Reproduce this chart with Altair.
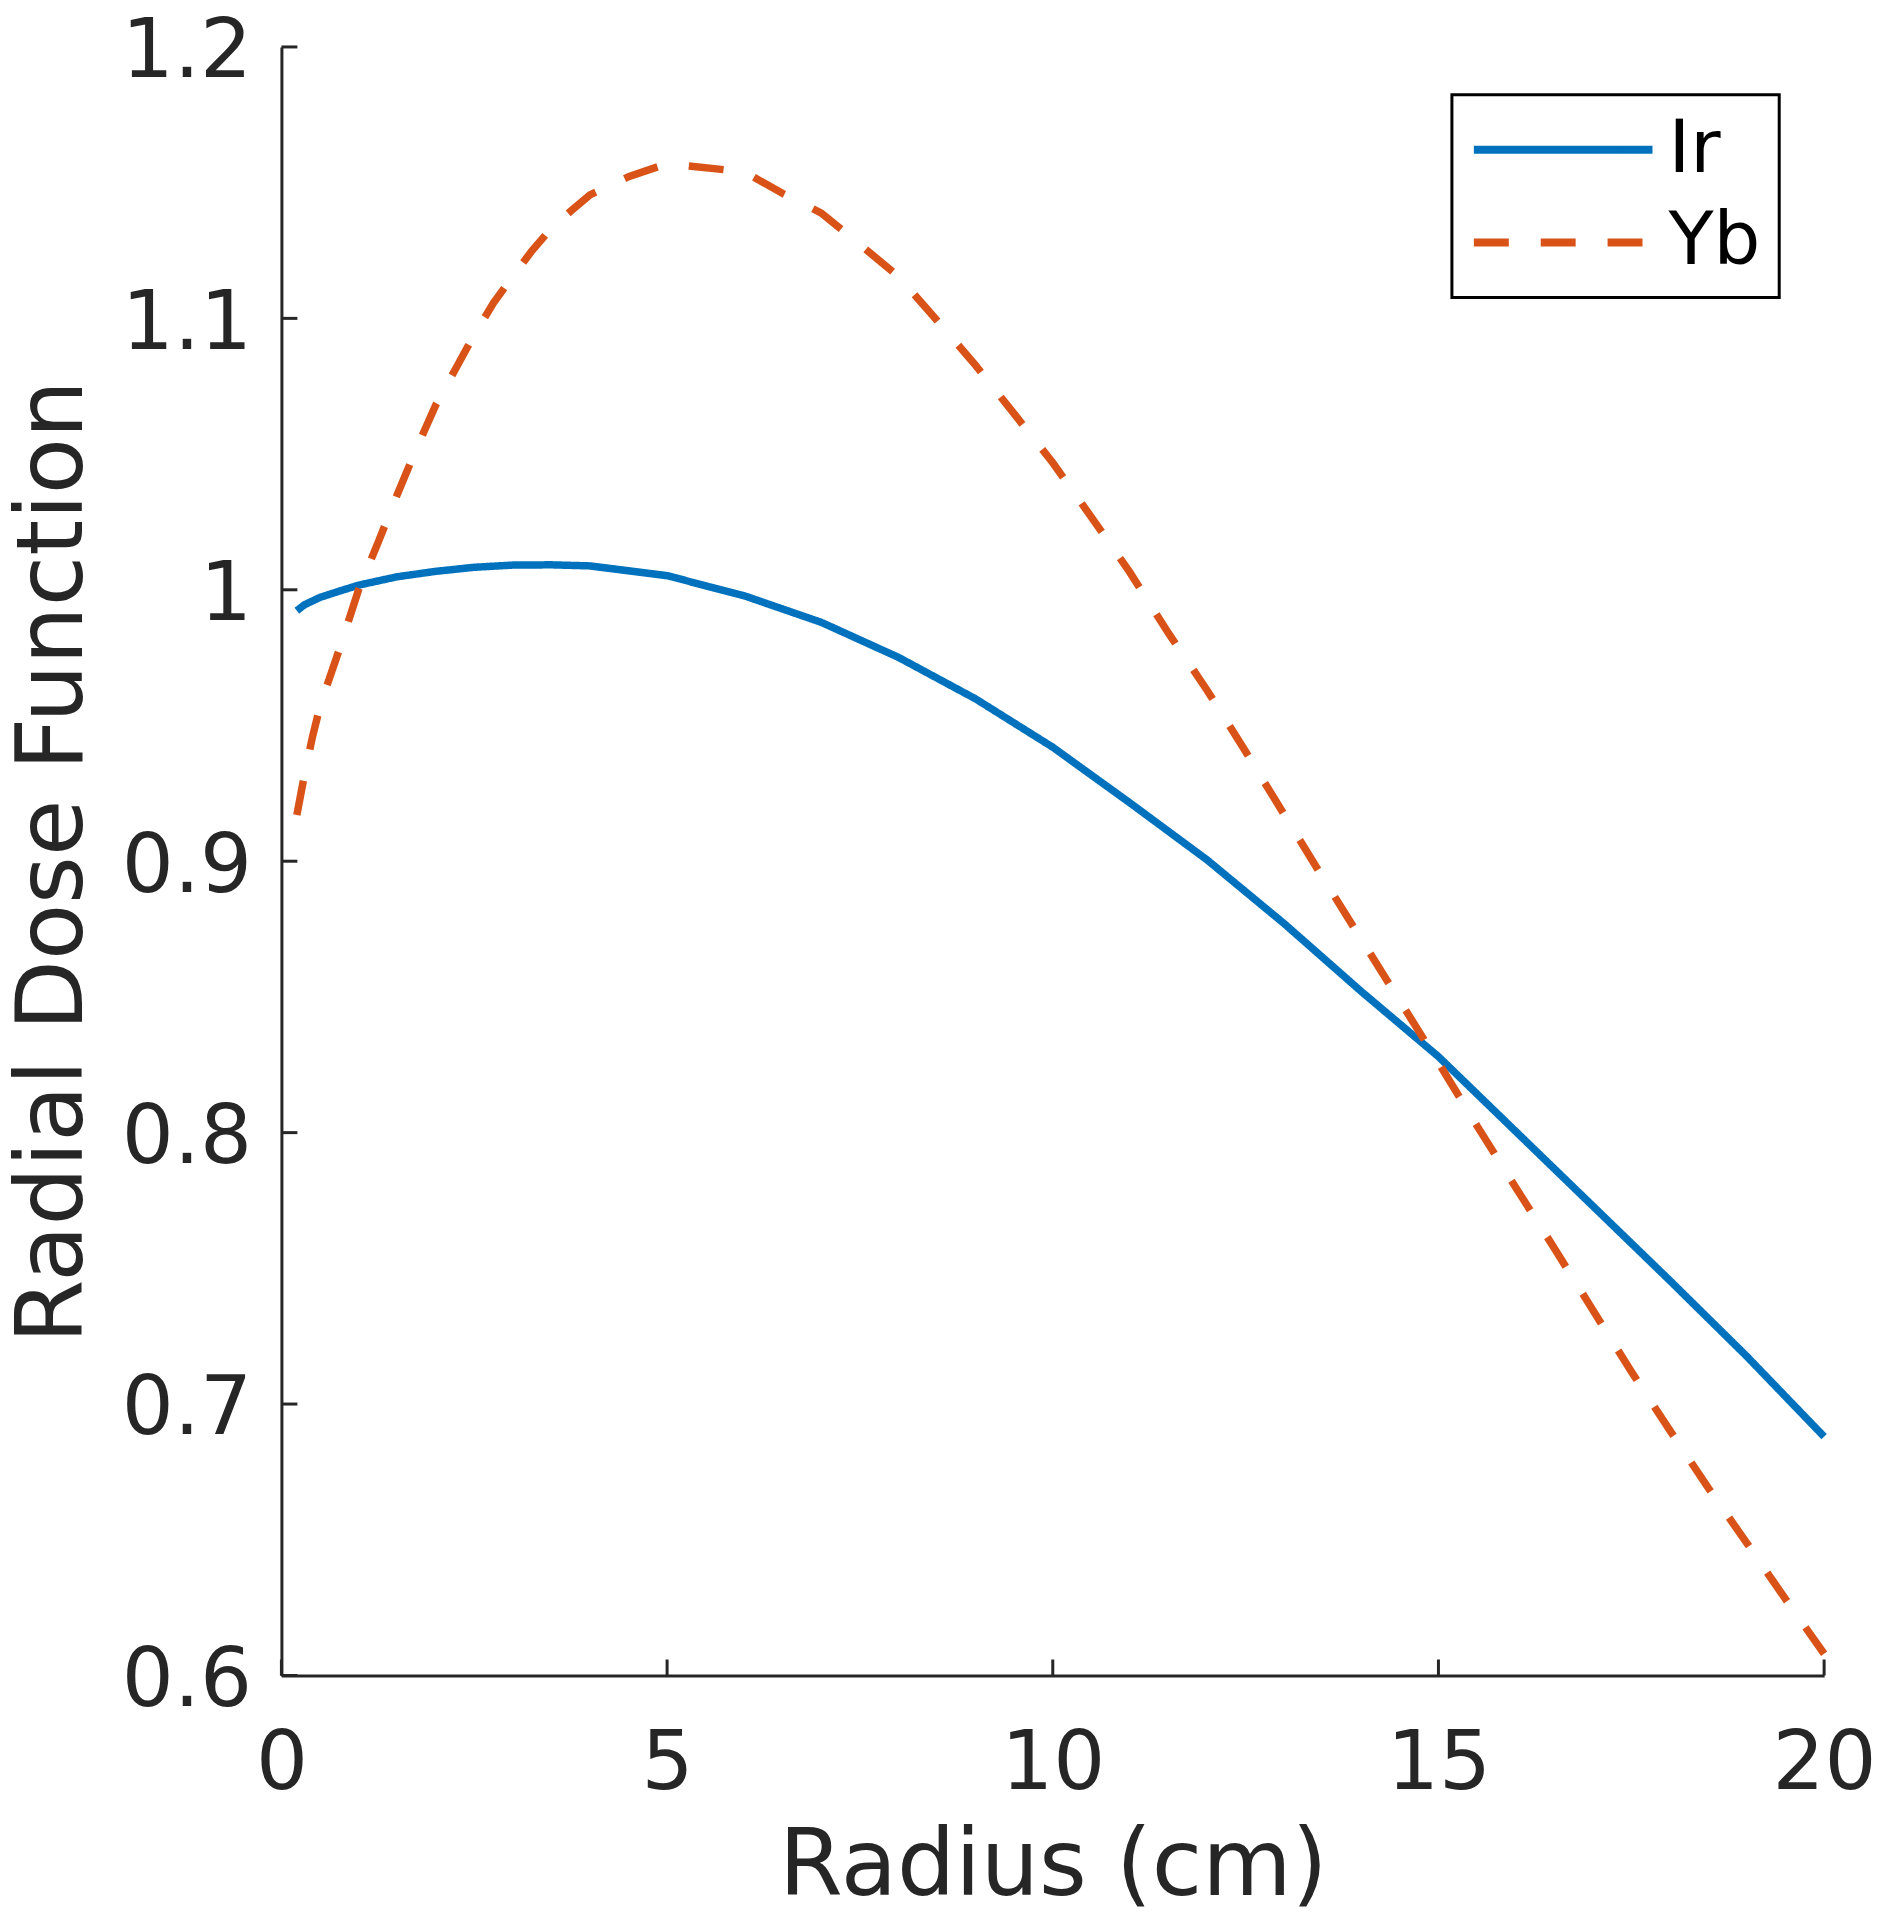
import altair as alt
import pandas as pd

SERIES = ["Ir", "Yb"]
COLORS = ["#0072BD", "#D95319"]

IR_R = [0.2, 0.3, 0.5, 0.75, 1, 1.5, 2, 2.5, 3, 3.5, 4, 5, 6, 7, 8, 9, 10,
        11, 12, 13, 14, 15, 16, 17, 18, 19, 20]
IR_G = [0.9923, 0.9945, 0.9972, 0.9995, 1.0017, 1.0048, 1.0068, 1.0083, 1.0091,
        1.0092, 1.0088, 1.0052, 0.9978, 0.9880, 0.9751, 0.9598, 0.9420, 0.9215,
        0.9005, 0.8770, 0.8520, 0.8280, 0.8005, 0.7730, 0.7455, 0.7175, 0.6880]

YB_R = [0.2, 0.3, 0.4, 0.5, 0.6, 0.75, 1, 1.25, 1.5, 1.75, 2, 2.25, 2.5, 2.75,
        3, 3.25, 3.5, 3.75, 4, 4.5, 5, 6, 6.5, 7, 7.5, 8, 8.5, 9, 9.5, 10,
        10.5, 11, 11.5, 12, 12.5, 13, 13.5, 14, 14.5, 15, 15.5, 16, 16.5, 17,
        17.5, 18, 18.5, 19, 19.5, 20]
YB_G = [0.9170, 0.9320, 0.9455, 0.9570, 0.9655, 0.9780, 1.0000, 1.0172, 1.0350,
        1.0520, 1.0680, 1.0810, 1.0940, 1.1057, 1.1155, 1.1250, 1.1332, 1.1395,
        1.1455, 1.1522, 1.1570, 1.1540, 1.1460, 1.1388, 1.1272, 1.1154, 1.0992,
        1.0827, 1.0648, 1.0468, 1.0268, 1.0064, 0.9840, 0.9630, 0.9404, 0.9172,
        0.8940, 0.8712, 0.8485, 0.8258, 0.8025, 0.7799, 0.7575, 0.7347, 0.7120,
        0.6903, 0.6690, 0.6487, 0.6281, 0.6080]

X_TICKS = [0, 5, 10, 15, 20]
Y_TICKS = [0.6, 0.7, 0.8, 0.9, 1.0, 1.1, 1.2]

W, H = 1546, 1632
FONT = "DejaVu Sans"
INK = "#262626"

df = pd.DataFrame({
    "r": IR_R + YB_R,
    "g": IR_G + YB_G,
    "series": ["Ir"] * len(IR_R) + ["Yb"] * len(YB_R),
})

xs = alt.Scale(domain=[0, 20], nice=False, zero=False)
ys = alt.Scale(domain=[0.6, 1.2], nice=False, zero=False)

legend = alt.Legend(
    title=None, orient="none", legendX=1173, legendY=48,
    symbolType="stroke", symbolSize=179 ** 2, symbolStrokeWidth=8,
    labelFont=FONT, labelFontSize=74, labelColor="#000000", labelOffset=12,
    padding=18, rowPadding=19, clipHeight=74,
    strokeColor="#000000", fillColor="#FFFFFF",
)

x_axis = alt.Axis(
    values=X_TICKS, format="d", title="Radius (cm)", grid=False,
    ticks=False, tickSize=0, domainColor=INK, domainWidth=3,
    labelFont=FONT, labelFontSize=82, labelColor=INK, labelPadding=48,
    labelFlush=False, labelOverlap=False,
    titleFont=FONT, titleFontSize=92, titleColor=INK, titleFontWeight="normal",
    titlePadding=17,
)
y_axis = alt.Axis(
    values=Y_TICKS, format=".1~f", title="Radial Dose Function", grid=False,
    ticks=False, tickSize=0, domainColor=INK, domainWidth=3,
    labelFont=FONT, labelFontSize=82, labelColor=INK, labelPadding=30,
    labelOffset=5, labelFlush=False, labelOverlap=False,
    titleFont=FONT, titleFontSize=92, titleColor=INK, titleFontWeight="normal",
    titlePadding=21,
)

lines = alt.Chart(df).mark_line(strokeWidth=7.5).encode(
    x=alt.X("r:Q", scale=xs, axis=x_axis),
    y=alt.Y("g:Q", scale=ys, axis=y_axis),
    color=alt.Color("series:N", scale=alt.Scale(domain=SERIES, range=COLORS), legend=legend),
    strokeDash=alt.StrokeDash("series:N",
                              scale=alt.Scale(domain=SERIES, range=[[1, 0], [35, 32]]),
                              legend=legend),
)

ytick = alt.Chart(pd.DataFrame({"g": Y_TICKS})).mark_rule(color=INK, strokeWidth=3).encode(
    y=alt.Y("g:Q", scale=ys, axis=y_axis),
    x=alt.value(0), x2=alt.value(16),
)
xtick = alt.Chart(pd.DataFrame({"r": X_TICKS})).mark_rule(color=INK, strokeWidth=3).encode(
    x=alt.X("r:Q", scale=xs, axis=x_axis),
    y=alt.value(H), y2=alt.value(H - 16),
)

chart = alt.layer(xtick, ytick, lines).properties(
    width=W, height=H,
    autosize=alt.AutoSizeParams(type="none"),
    padding={"left": 274, "top": 37, "right": 56, "bottom": 235},
).configure_view(strokeWidth=0).configure_legend(strokeWidth=3)

chart.save("out.html", embed_options={"renderer": "svg", "actions": False})
